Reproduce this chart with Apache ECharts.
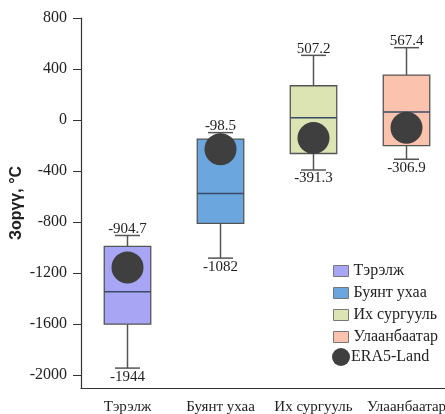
<!DOCTYPE html>
<html><head><meta charset="utf-8">
<script src="https://cdn.jsdelivr.net/npm/echarts@6/dist/echarts.min.js"></script>
<style>html,body{margin:0;padding:0;background:#fff}#c{width:445px;height:414px}</style>
</head><body><div id="c"></div>
<script>
const categories = ['Тэрэлж', 'Буянт ухаа', 'Их сургууль', 'Улаанбаатар'];
// [min, q1, median, q3, max]
const boxValues = [
  [-1944, -1600, -1346, -990, -904.7],
  [-1082, -809, -576, -149, -98.5],
  [-391.3, -262, 18, 269, 507.2],
  [-306.9, -200, 63, 353, 567.4]
];
const minLabels = ['-1944', '-1082', '-391.3', '-306.9'];
const maxLabels = ['-904.7', '-98.5', '507.2', '567.4'];
const era5Values = [-1155, -228, -141, -60];
const yTicks = [-2000, -1600, -1200, -800, -400, 0, 400, 800];
const colors = ['#a7a5f4', '#6ba6df', '#dbe4b2', '#fbc3ae'];

const serif = '"Liberation Serif", "DejaVu Serif", serif';
const chart = echarts.init(document.getElementById('c'));

function makeSeries(i) {
  return {
    name: categories[i],
    type: 'custom',
    itemStyle: { color: colors[i] },
    data: [[i].concat(boxValues[i])],
    renderItem: function (params, api) {
      const x = api.value(0);
      const pMin = api.coord([x, api.value(1)]);
      const pQ1 = api.coord([x, api.value(2)]);
      const pMed = api.coord([x, api.value(3)]);
      const pQ3 = api.coord([x, api.value(4)]);
      const pMax = api.coord([x, api.value(5)]);
      const bw = api.size([1, 0])[0];
      const hw = bw * 0.25;
      const cap = 12.5;
      const cx = pMed[0];
      const lineStyle = { stroke: '#555', lineWidth: 1.5 };
      return {
        type: 'group',
        children: [
          { type: 'line', shape: { x1: cx, y1: pMax[1], x2: cx, y2: pQ3[1] }, style: lineStyle },
          { type: 'line', shape: { x1: cx, y1: pQ1[1], x2: cx, y2: pMin[1] }, style: lineStyle },
          { type: 'line', shape: { x1: cx - cap, y1: pMax[1], x2: cx + cap, y2: pMax[1] }, style: lineStyle },
          { type: 'line', shape: { x1: cx - cap, y1: pMin[1], x2: cx + cap, y2: pMin[1] }, style: lineStyle },
          { type: 'rect', shape: { x: cx - hw, y: pQ3[1], width: 2 * hw, height: pQ1[1] - pQ3[1] },
            style: { fill: colors[i], stroke: '#555', lineWidth: 1.3 } },
          { type: 'line', shape: { x1: cx - hw, y1: pMed[1], x2: cx + hw, y2: pMed[1] },
            style: { stroke: '#3a4a66', lineWidth: 1.5 } },
          { type: 'text', style: { text: maxLabels[i], x: cx, y: pMax[1] + 1, textAlign: 'center',
            textVerticalAlign: 'bottom', fontSize: 15, fontFamily: serif, fill: '#222' } },
          { type: 'text', style: { text: minLabels[i], x: cx, y: pMin[1] + 1, textAlign: 'center',
            textVerticalAlign: 'top', fontSize: 15, fontFamily: serif, fill: '#222' } }
        ]
      };
    }
  };
}

const series = categories.map((c, i) => makeSeries(i));
series.push({
  name: 'ERA5-Land',
  type: 'scatter',
  symbol: 'circle',
  symbolSize: 32,
  z: 10,
  itemStyle: { color: '#3f3f3f', opacity: 1 },
  data: era5Values.map((v, i) => [i, v])
});

chart.setOption({
  animation: false,
  backgroundColor: '#fff',
  grid: { left: 81, right: -8, top: 18, bottom: 26, containLabel: false, outerBoundsMode: 'none' },
  xAxis: {
    type: 'category',
    data: categories,
    boundaryGap: true,
    axisLine: { onZero: false, lineStyle: { color: '#333', width: 1.2 } },
    axisTick: { alignWithLabel: true, length: 5, lineStyle: { color: '#333' } },
    axisLabel: { color: '#222', fontSize: 15, fontFamily: serif, margin: 12, interval: 0, hideOverlap: false },
    splitLine: { show: false }
  },
  yAxis: {
    type: 'value',
    min: -2100, max: 800,
    interval: 400,
    axisLine: { show: true, lineStyle: { color: '#333', width: 1.2 } },
    axisTick: { show: true, length: 8, lineStyle: { color: '#333' },
      customValues: yTicks },
    axisLabel: { color: '#222', fontSize: 16, fontFamily: serif, margin: 14,
      customValues: yTicks, formatter: v => String(v) },
    splitLine: { show: false },
    name: 'Зорүү, °C',
    nameLocation: 'middle',
    nameGap: 56,
    nameMoveOverlap: false,
    nameTextStyle: { fontSize: 16, fontWeight: 'bold', color: '#222',
      fontFamily: '"Liberation Sans", Arial, sans-serif' }
  },
  legend: [{
    orient: 'vertical',
    left: 328, top: 258,
    icon: 'rect',
    itemWidth: 15, itemHeight: 11,
    itemGap: 6,
    textStyle: { fontSize: 16, lineHeight: 16, fontFamily: serif, color: '#222' },
    data: categories.map((c, i) => ({ name: c, itemStyle: { color: colors[i], borderColor: '#777', borderWidth: 1 } }))
  }, {
    orient: 'vertical',
    left: 327, top: 343,
    icon: 'circle',
    itemWidth: 18, itemHeight: 18,
    textStyle: { fontSize: 16, fontFamily: serif, color: '#222', padding: [0, 0, 0, -4] },
    data: [{ name: 'ERA5-Land', itemStyle: { color: '#3f3f3f' } }]
  }],
  series: series
});
</script></body></html>
